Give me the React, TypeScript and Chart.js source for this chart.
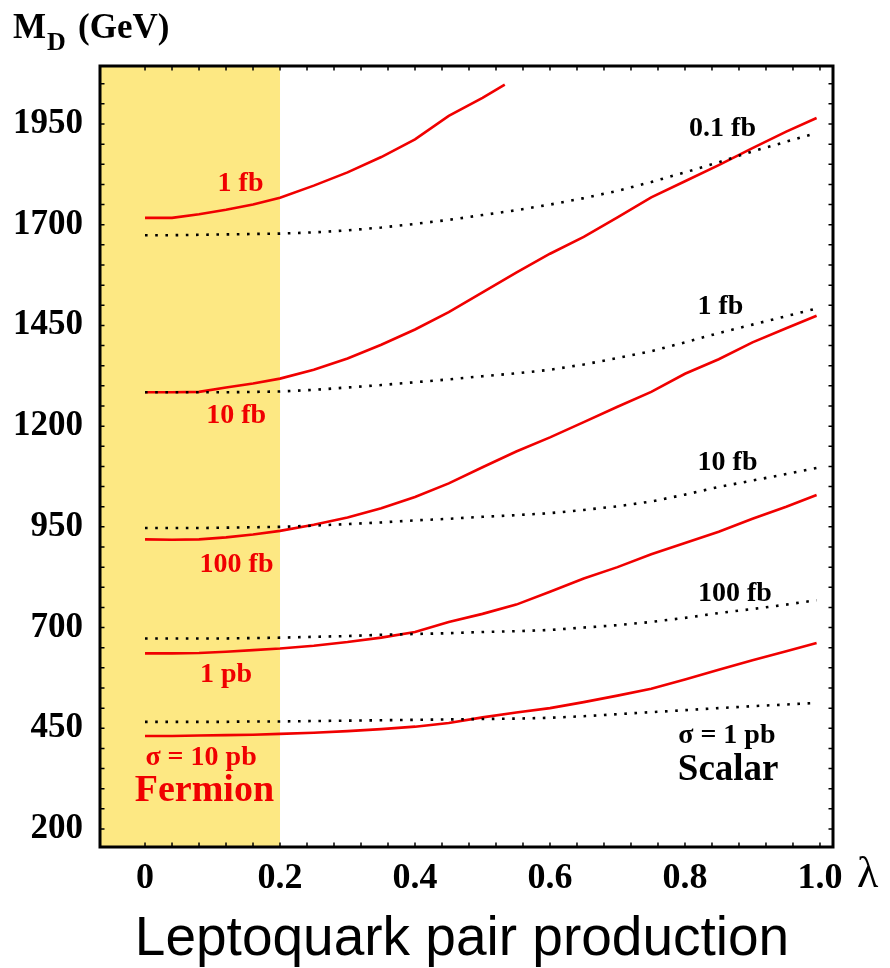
import React, { useEffect, useRef } from "react";
import { Chart, registerables } from "chart.js";

Chart.register(...registerables);

// ---- data ----
const lambdaGrid = [0, 0.04, 0.08, 0.12, 0.16, 0.2, 0.25, 0.3, 0.35, 0.4, 0.45, 0.5, 0.55, 0.6, 0.65, 0.7, 0.75, 0.8, 0.85, 0.9, 0.95, 0.995];
const lambdaTop = [0, 0.04, 0.08, 0.12, 0.16, 0.2, 0.25, 0.3, 0.35, 0.4, 0.45, 0.5, 0.533];

// Fermion leptoquarks (red, solid)
const fermion1fb = [1717, 1717, 1726, 1737, 1750, 1767, 1797, 1830, 1868, 1912, 1970, 2015, 2048];
const fermion10fb = [1284, 1284, 1285, 1296, 1306, 1318, 1340, 1368, 1402, 1440, 1483, 1532, 1581, 1628, 1670, 1718, 1768, 1808, 1848, 1890, 1931, 1965];
const fermion100fb = [919, 918, 919, 924, 931, 940, 955, 973, 996, 1024, 1058, 1098, 1137, 1172, 1210, 1248, 1285, 1330, 1366, 1408, 1443, 1474];
const fermion1pb = [636, 636, 637, 640, 644, 648, 655, 664, 675, 689, 714, 734, 757, 789, 822, 850, 882, 910, 938, 970, 1000, 1029];
const fermion10pb = [431, 431, 432, 433, 434, 436, 439, 443, 448, 454, 463, 477, 489, 500, 515, 531, 548, 571, 595, 619, 641, 662];

// Scalar leptoquarks (black, dotted)
const scalar01fb = [1674, 1674, 1675, 1676, 1677, 1678, 1681, 1686, 1693, 1702, 1712, 1724, 1736, 1750, 1766, 1784, 1806, 1830, 1855, 1882, 1906, 1928];
const scalar1fb = [1284, 1284, 1284, 1284, 1285, 1286, 1290, 1296, 1302, 1309, 1316, 1324, 1331, 1340, 1353, 1369, 1386, 1408, 1431, 1452, 1473, 1492];
const scalar10fb = [947, 947, 947, 948, 949, 950, 953, 957, 961, 966, 970, 975, 979, 984, 992, 1001, 1013, 1030, 1049, 1065, 1081, 1096];
const scalar100fb = [673, 673, 673, 673, 674, 675, 677, 679, 682, 684, 686, 689, 691, 694, 700, 706, 714, 724, 736, 746, 757, 768];
const scalar1pb = [466, 466, 466, 466, 467, 467, 468, 469, 470, 471, 472, 473, 474, 476, 480, 485, 490, 495, 500, 505, 509, 513];

// Axis ticks
const xTickValues = [0, 0.2, 0.4, 0.6, 0.8, 1.0];
const xTickLabels = ["0", "0.2", "0.4", "0.6", "0.8", "1.0"];
const yTickValues = [200, 450, 700, 950, 1200, 1450, 1700, 1950];
const fermionBand = 0.2;

// Curve labels (anchor in data units: centre x, baseline y)
const fermionLabelText = ["1 fb", "10 fb", "100 fb", "1 pb", "σ = 10 pb"];
const fermionLabelX = [0.1415, 0.135, 0.1356, 0.12, 0.083];
const fermionLabelY = [1784, 1208, 838, 565, 359];
const scalarLabelText = ["0.1 fb", "1 fb", "10 fb", "100 fb", "σ = 1 pb"];
const scalarLabelX = [0.8556, 0.8526, 0.863, 0.874, 0.862];
const scalarLabelY = [1920, 1478, 1091, 766, 413];

const RED = "#f00000";
const YELLOW = "#fde883";
const SERIF = "'Liberation Serif', 'DejaVu Serif', serif";

function pts(xs: number[], ys: number[]) {
  return ys.map((y, i) => ({ x: xs[i], y }));
}

const decorPlugin = {
  id: "decor",
  beforeDatasetsDraw(chart: any) {
    const { ctx, chartArea, scales } = chart;
    const x = scales.x;
    ctx.save();
    ctx.fillStyle = YELLOW;
    const xr = x.getPixelForValue(fermionBand);
    ctx.fillRect(chartArea.left, chartArea.top, xr - chartArea.left, chartArea.bottom - chartArea.top);
    ctx.restore();
  },
  afterDraw(chart: any) {
    const { ctx, chartArea, scales } = chart;
    const { left, right, top, bottom } = chartArea;
    const x = scales.x;
    const y = scales.y;
    ctx.save();
    // minor / major tick marks on all four sides (inward)
    ctx.strokeStyle = "#000";
    ctx.lineWidth = 1.5;
    const tl = 4.5;
    ctx.beginPath();
    for (let i = 0; i <= 25; i++) {
      const v = i * 0.04;
      const px = x.getPixelForValue(v);
      ctx.moveTo(px, bottom);
      ctx.lineTo(px, bottom - tl);
      ctx.moveTo(px, top);
      ctx.lineTo(px, top + tl);
    }
    for (let v = 200; v <= 2050; v += 50) {
      const py = y.getPixelForValue(v);
      ctx.moveTo(left, py);
      ctx.lineTo(left + tl, py);
      ctx.moveTo(right, py);
      ctx.lineTo(right - tl, py);
    }
    ctx.stroke();
    // frame
    ctx.lineWidth = 3;
    ctx.strokeRect(left, top, right - left, bottom - top);

    // curve labels
    ctx.textAlign = "center";
    ctx.textBaseline = "alphabetic";
    ctx.font = `bold 28px ${SERIF}`;
    ctx.fillStyle = RED;
    fermionLabelText.forEach((t, i) => {
      ctx.fillText(t, x.getPixelForValue(fermionLabelX[i]), y.getPixelForValue(fermionLabelY[i]));
    });
    ctx.font = `bold 38px ${SERIF}`;
    ctx.fillText("Fermion", x.getPixelForValue(0.088), y.getPixelForValue(270));

    ctx.fillStyle = "#000";
    ctx.font = `bold 28px ${SERIF}`;
    scalarLabelText.forEach((t, i) => {
      ctx.fillText(t, x.getPixelForValue(scalarLabelX[i]), y.getPixelForValue(scalarLabelY[i]));
    });
    ctx.font = `bold 37px ${SERIF}`;
    ctx.fillText("Scalar", x.getPixelForValue(0.864), y.getPixelForValue(322));

    // axis titles
    ctx.textAlign = "left";
    ctx.font = `bold 35px ${SERIF}`;
    ctx.fillText("M", 13, 38);
    ctx.font = `bold 26px ${SERIF}`;
    ctx.fillText("D", 47, 50);
    ctx.font = `bold 35px ${SERIF}`;
    ctx.fillText("(GeV)", 78, 38);

    ctx.font = `44px ${SERIF}`;
    ctx.fillText("λ", 857, 887);

    ctx.textAlign = "center";
    ctx.font = `55px 'Liberation Sans', Arial, sans-serif`;
    ctx.fillText("Leptoquark pair production", 462, 955);
    ctx.restore();
  },
};

export default function App() {
  const ref = useRef<HTMLCanvasElement | null>(null);
  useEffect(() => {
    if (!ref.current) return;
    const solid = (data: any) => ({
      data,
      borderColor: RED,
      borderWidth: 2.6,
      pointRadius: 0,
      tension: 0,
      fill: false,
    });
    const dotted = (data: any) => ({
      data,
      borderColor: "#000",
      borderWidth: 2.6,
      borderDash: [2.6, 7.6],
      borderCapStyle: "butt",
      pointRadius: 0,
      tension: 0,
      fill: false,
    });
    const chart = new Chart(ref.current, {
      type: "line",
      data: {
        datasets: [
          dotted(pts(lambdaGrid, scalar01fb)),
          dotted(pts(lambdaGrid, scalar1fb)),
          dotted(pts(lambdaGrid, scalar10fb)),
          dotted(pts(lambdaGrid, scalar100fb)),
          dotted(pts(lambdaGrid, scalar1pb)),
          solid(pts(lambdaTop, fermion1fb)),
          solid(pts(lambdaGrid, fermion10fb)),
          solid(pts(lambdaGrid, fermion100fb)),
          solid(pts(lambdaGrid, fermion1pb)),
          solid(pts(lambdaGrid, fermion10pb)),
        ] as any,
      },
      options: {
        animation: false,
        responsive: false,
        devicePixelRatio: 1,
        layout: { padding: { top: 66, right: 57, left: 0, bottom: 0 } },
        plugins: { legend: { display: false }, tooltip: { enabled: false } },
        scales: {
          x: {
            type: "linear",
            min: -0.0667,
            max: 1.0193,
            grid: { display: false, drawTicks: false },
            border: { display: false },
            afterBuildTicks: (s: any) => {
              s.ticks = xTickValues.map((v) => ({ value: v }));
            },
            afterFit: (s: any) => {
              s.height = 121;
            },
            ticks: {
              autoSkip: false,
              maxRotation: 0,
              padding: 10,
              color: "#000",
              font: { family: SERIF, size: 36, weight: "bold" },
              callback: (v: any) => {
                const i = xTickValues.findIndex((t) => Math.abs(t - v) < 1e-6);
                return i >= 0 ? xTickLabels[i] : "";
              },
            },
          },
          y: {
            type: "linear",
            min: 155.3,
            max: 2094,
            grid: { display: false, drawTicks: false },
            border: { display: false },
            afterBuildTicks: (s: any) => {
              s.ticks = yTickValues.map((v) => ({ value: v }));
            },
            afterFit: (s: any) => {
              s.width = 100;
            },
            ticks: {
              autoSkip: false,
              padding: 17,
              color: "#000",
              font: { family: SERIF, size: 35, weight: "bold" },
              callback: (v: any) => String(v),
            },
          },
        },
      } as any,
      plugins: [decorPlugin],
    });
    return () => chart.destroy();
  }, []);
  return (
    <div style={{ position: "absolute", left: 0, top: 0, width: 890, height: 968, background: "#fff" }}>
      <canvas ref={ref} width={890} height={968} style={{ display: "block" }} />
    </div>
  );
}
